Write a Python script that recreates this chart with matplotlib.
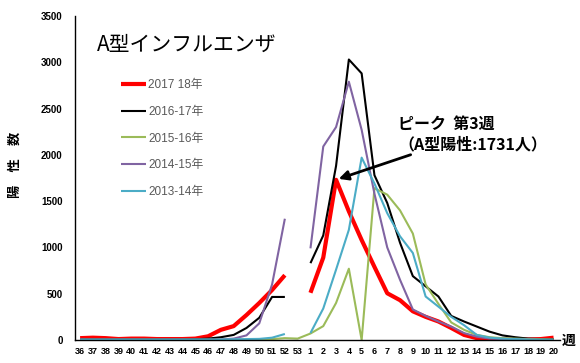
import numpy as np
import matplotlib
matplotlib.use("Agg")
import matplotlib.pyplot as plt

nan = np.nan

# week labels: week 36 of year one through week 20 of the next
weeks = [str(w) for w in range(36, 54)] + [str(w) for w in range(1, 21)]

# positives per week, one list per season (nan = no such week)
s2017_18 = [20, 25, 20, 10, 15, 15, 10, 10, 10, 15, 40, 110, 150, 270, 400, 540, 700, nan,
            510, 890, 1731, 1390, 1080, 790, 505, 430, 310, 250, 200, 130, 55, 20, 8, 5, 5, 5, 10, 25]
s2016_17 = [5, 5, 5, 5, 5, 5, 5, 5, 5, 8, 15, 30, 55, 130, 240, 465, 465, nan,
            830, 1130, 1880, 3030, 2880, 1780, 1480, 1050, 690, 580, 470, 260, 200, 145, 90, 50, 30, 15, 10, 8]
s2015_16 = [2, 2, 2, 2, 2, 2, 2, 2, 2, 2, 3, 3, 3, 4, 5, 10, 20, 15,
            70, 150, 400, 770, 0, 1640, 1570, 1400, 1150, 600, 390, 190, 110, 55, 30, 20, 15, 10, 8, 5]
s2014_15 = [3, 3, 3, 3, 3, 3, 3, 3, 3, 3, 3, 5, 15, 50, 180, 600, 1310, nan,
            990, 2090, 2300, 2790, 2270, 1580, 1000, 650, 330, 260, 200, 145, 75, 36, 15, 10, 5, 3, 2, 2]
s2013_14 = [5, 5, 5, 5, 5, 5, 5, 5, 5, 5, 5, 5, 8, 10, 12, 25, 65, nan,
            75, 340, 760, 1190, 1970, 1690, 1370, 1120, 940, 470, 360, 250, 160, 55, 25, 15, 10, 5, 3, 2]

series = [
    ("2017 18年", s2017_18, "#ff0000", 3.0),
    ("2016-17年", s2016_17, "#000000", 1.5),
    ("2015-16年", s2015_16, "#9bbb59", 1.5),
    ("2014-15年", s2014_15, "#8064a2", 1.5),
    ("2013-14年", s2013_14, "#4bacc6", 1.5),
]

jp = ["Noto Sans CJK JP", "DejaVu Sans"]
num = ["Liberation Sans Narrow", "Liberation Sans", "DejaVu Sans"]

fig = plt.figure(figsize=(5.8, 3.63), dpi=100)
ax = fig.add_axes([75 / 580, 23 / 363, 485 / 580, 324 / 363])

x = np.arange(len(weeks))
for label, vals, color, lw in series:
    ax.plot(x, vals, color=color, lw=lw, label=label, solid_capstyle="butt")

ax.set_xlim(-0.4, 37.5)
ax.set_ylim(0, 3500)
ax.set_xticks(x)
ax.set_xticklabels(weeks, family=num, fontsize=6.5, fontweight="bold")
ax.set_yticks(range(0, 3501, 500))
ax.set_yticklabels([str(v) for v in range(0, 3501, 500)], family=num, fontsize=7,
                   fontweight="bold")
ax.tick_params(axis="x", length=0, pad=5)
ax.tick_params(axis="y", length=0, pad=9)
for side in ("top", "right"):
    ax.spines[side].set_visible(False)
for side in ("left", "bottom"):
    ax.spines[side].set_linewidth(1.0)

# y axis label and the week marker at the right edge
fig.text(15 / 580, 1 - 165 / 363, "陽　性　数", rotation=90, ha="center", va="center",
         family=jp, fontsize=9.5, fontweight="bold")
fig.text(562 / 580, 1 - 341 / 363, "週", ha="left", va="center",
         family=jp, fontsize=10, fontweight="bold")

# title inside the plot area
fig.text(97 / 580, 1 - 45 / 363, "A型インフルエンザ", ha="left", va="center",
         family=jp, fontsize=15)

leg = ax.legend(loc="upper left", bbox_to_anchor=(121 / 580, 1 - 79 / 363),
                bbox_transform=fig.transFigure, frameon=False, borderpad=0,
                borderaxespad=0, handlelength=2.1, handletextpad=0.2,
                labelspacing=1.25, prop={"family": num[:2] + jp, "size": 8.5})
for t in leg.get_texts():
    t.set_color("#595959")

# peak annotation for the current season
peak = int(np.nanargmax(s2017_18))
ax.annotate("ピーク  第3週\n（A型陽性:1731人）",
            xy=(peak, s2017_18[peak]), xycoords="data",
            xytext=(398 / 580, 1 - 134 / 363), textcoords="figure fraction",
            ha="left", va="center", family=jp, fontsize=11.5, fontweight="bold",
            linespacing=1.3,
            arrowprops=dict(arrowstyle="-|>", color="black", lw=2,
                            mutation_scale=14, shrinkA=0, shrinkB=2))

fig.savefig("out.png", dpi=100)
